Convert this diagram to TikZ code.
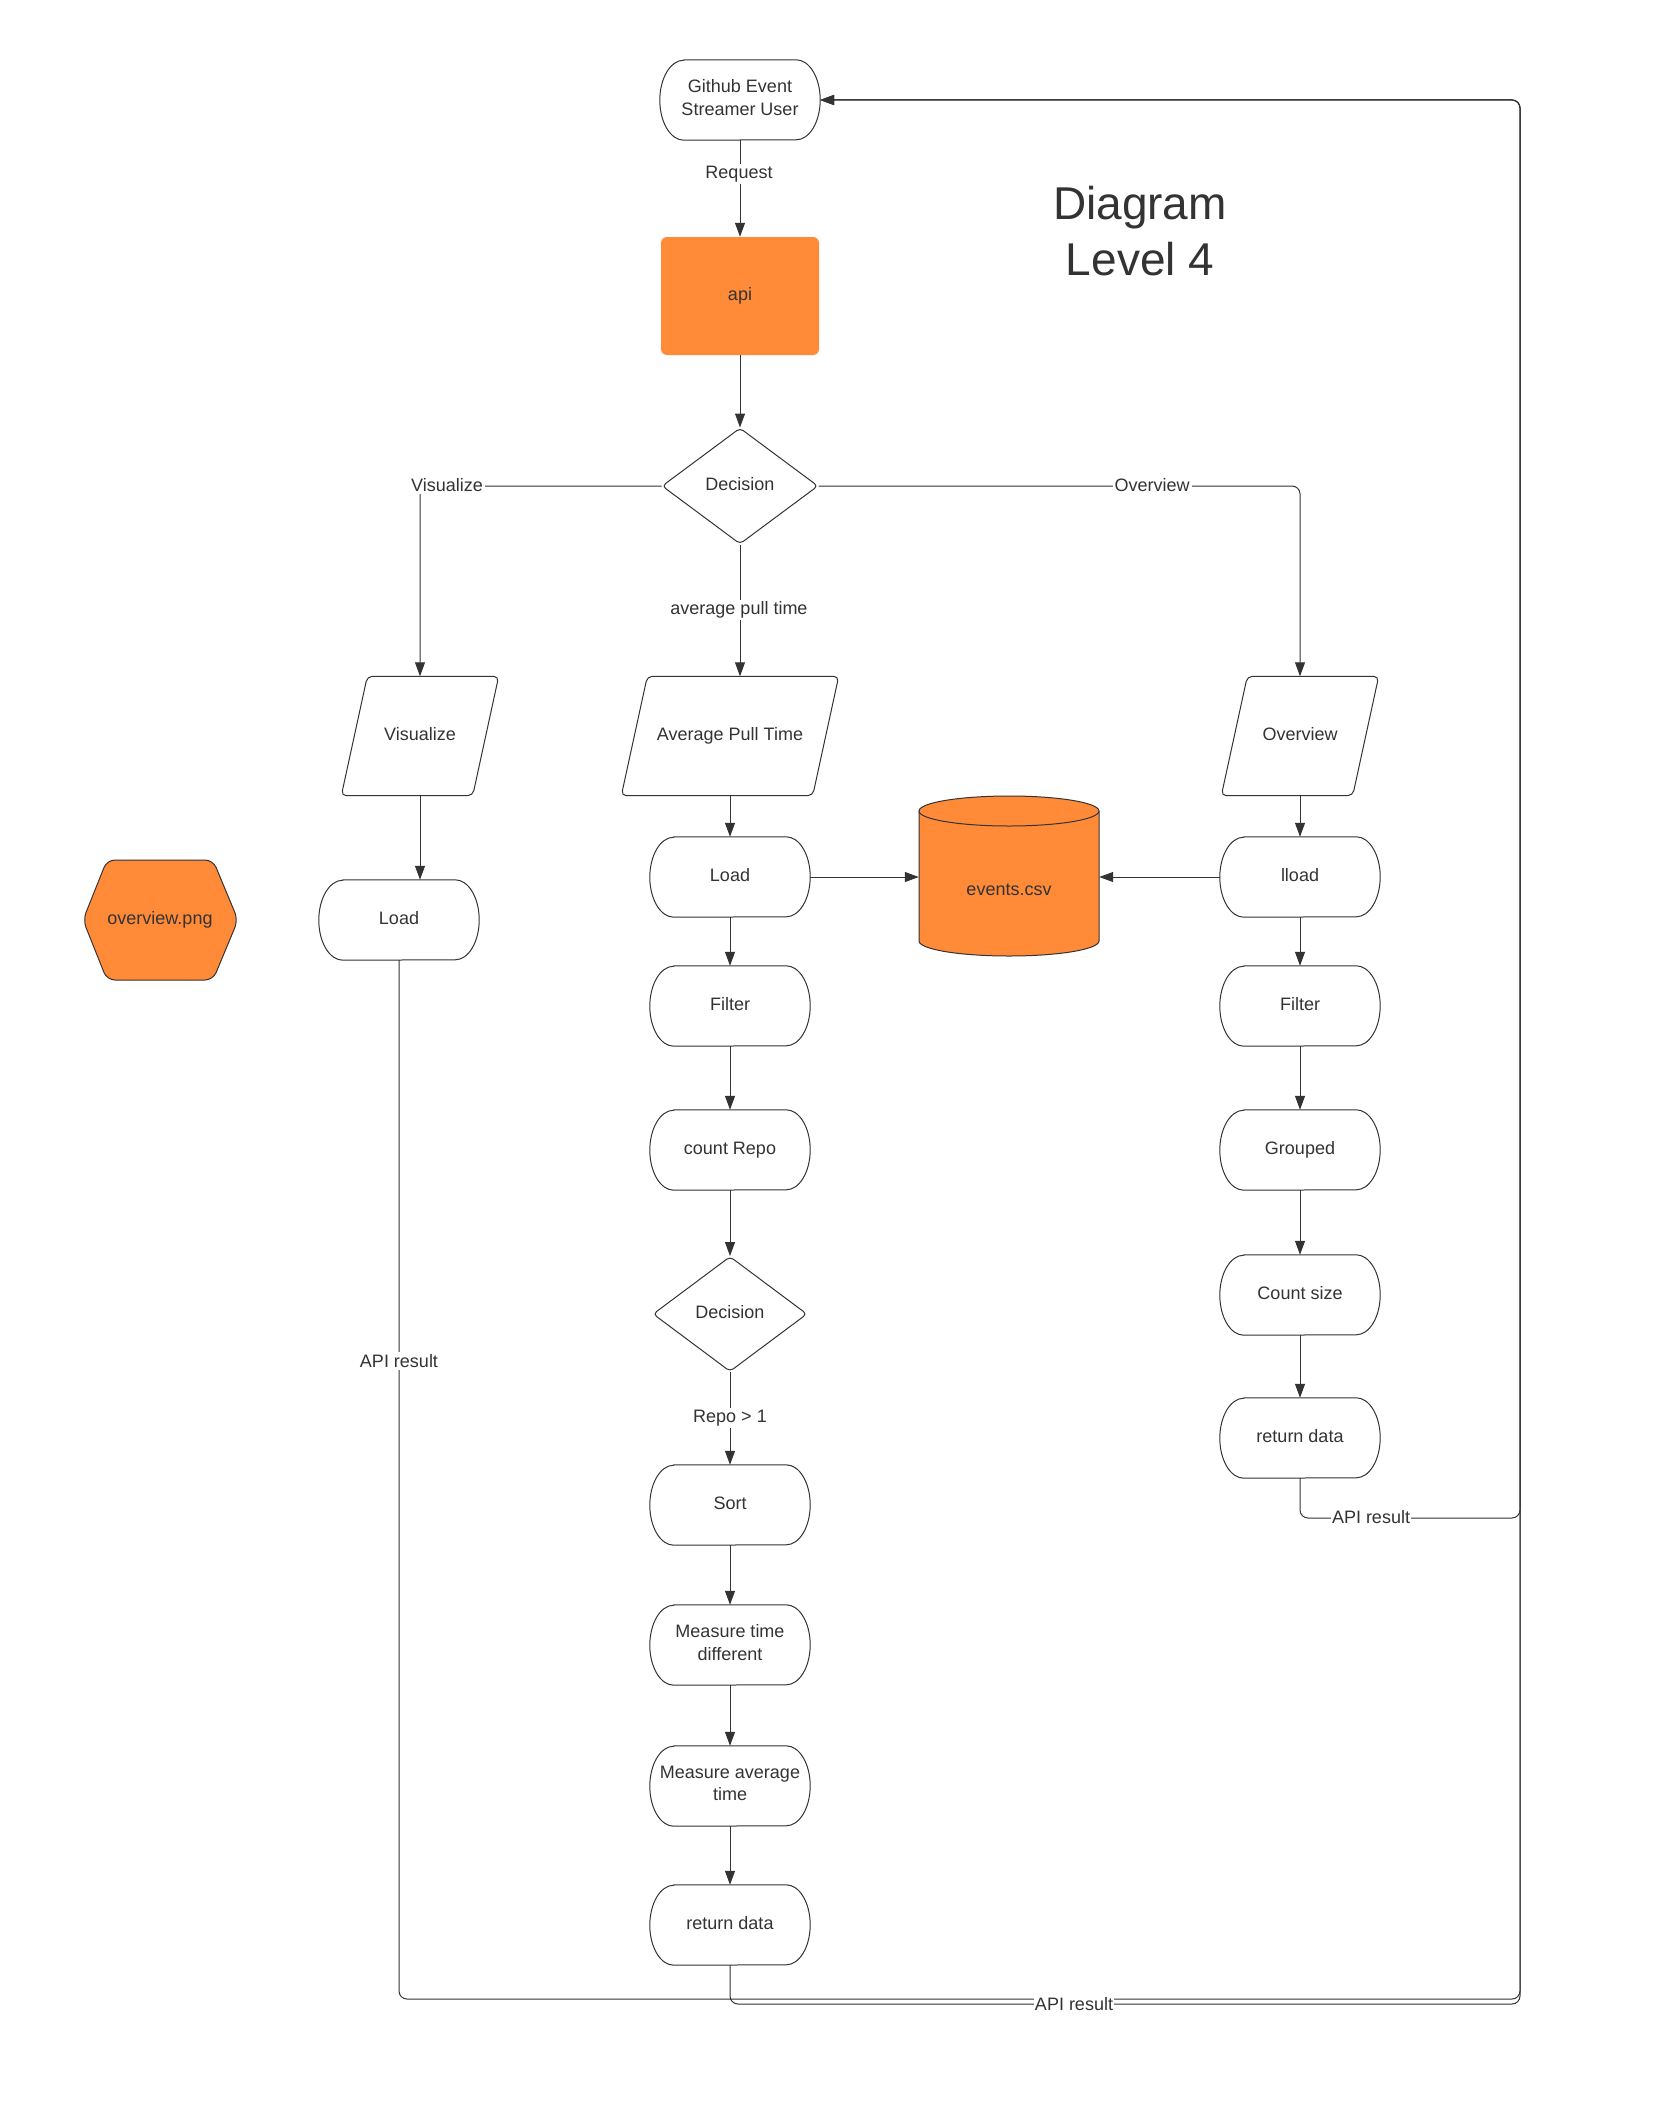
\documentclass[tikz,border=0pt]{standalone}
\usepackage{fontspec}
\setmainfont{Liberation Sans}
\usetikzlibrary{arrows.meta,shapes.geometric,calc}
\definecolor{ink}{HTML}{333333}
\definecolor{brand}{HTML}{FF8A38}

\tikzset{
  x=1pt, y=1pt,
  conn/.style={draw=ink, line width=1pt, rounded corners=8pt,
    -{Triangle[length=14pt,width=10pt]}},
  txt/.style={text=ink, font=\fontsize{18}{22.5}\selectfont, align=center},
  boxtxt/.style={txt, execute at end node={\rule[-5pt]{0pt}{18pt}}},
  lbl/.style={txt, fill=white, inner sep=2pt},
  termbox/.style={boxtxt, minimum width=160pt, minimum height=80pt, inner sep=0pt},
  iobox/.style={boxtxt, minimum width=#1, minimum height=119pt, inner sep=0pt},
  choice/.style={boxtxt, diamond, draw=ink, line width=1pt, rounded corners=4pt,
    inner sep=0pt, aspect=1.34},
  outline/.style={draw=ink, line width=1pt},
}

% terminator outline: straight top and bottom, half-ellipse sides
\newcommand\termline[1]{%
  \draw[outline] ($(#1.north west)+(24pt,0)$) -- ($(#1.north east)+(-24pt,0)$)
    arc[start angle=90,end angle=-90,x radius=24pt,y radius=40pt]
    -- ($(#1.south west)+(24pt,0)$)
    arc[start angle=270,end angle=90,x radius=24pt,y radius=40pt] -- cycle;}
% data (input/output) outline: slanted parallelogram
\newcommand\ioline[1]{%
  \draw[outline, rounded corners=5pt] ($(#1.north west)+(26pt,0)$) -- (#1.north east)
    -- ($(#1.south east)+(-26pt,0)$) -- (#1.south west) -- cycle;}

\begin{document}
\begin{tikzpicture}
\useasboundingbox (0,0) rectangle (1672,-2122);

% title
\node[text=ink, font=\fontsize{46}{56}\selectfont, align=center] (title) at (1140,-231) {Diagram\\Level 4};

% top of the flow
\node[termbox] (gh) at (740,-100) {Github Event\\Streamer User};
\node[boxtxt, fill=brand, rounded corners=6pt, minimum width=158pt, minimum height=118pt] (api) at (740,-296) {api};
\node[choice, minimum width=156pt, minimum height=116pt] (dec1) at (740,-486) {Decision};

% branch entry points
\node[iobox=157pt] (vis) at (420,-736) {Visualize};
\node[iobox=217pt] (avgp) at (730,-736) {Average Pull Time};
\node[iobox=157pt] (ovp) at (1300,-736) {Overview};

% visualize branch
\node[termbox] (vload) at (399,-920) {Load};

% average pull time branch
\node[termbox] (load) at (730,-877) {Load};
\node[termbox] (filt) at (730,-1006) {Filter};
\node[termbox] (cnt) at (730,-1150) {count Repo};
\node[choice, minimum width=154pt, minimum height=115pt] (dec2) at (730,-1314) {Decision};
\node[termbox] (sort) at (730,-1505) {Sort};
\node[termbox] (mtd) at (730,-1645) {Measure time\\different};
\node[termbox] (mat) at (730,-1786) {Measure average\\time};
\node[termbox] (ret) at (730,-1925) {return data};

% overview branch
\node[termbox] (lload) at (1300,-877) {lload};
\node[termbox] (ofilt) at (1300,-1006) {Filter};
\node[termbox] (grp) at (1300,-1150) {Grouped};
\node[termbox] (csize) at (1300,-1295) {Count size};
\node[termbox] (oret) at (1300,-1438) {return data};

\foreach \n in {gh,vload,load,filt,cnt,sort,mtd,mat,ret,lload,ofilt,grp,csize,oret} {\termline{\n}}
\foreach \n in {vis,avgp,ovp} {\ioline{\n}}

% data store
\coordinate (csvc) at (1009,-876);
\draw[outline, fill=brand] ($(csvc)+(-90,65)$) -- ($(csvc)+(-90,-65)$)
  arc[start angle=180,end angle=360,x radius=90pt,y radius=15pt]
  -- ($(csvc)+(90,65)$)
  arc[start angle=0,end angle=180,x radius=90pt,y radius=15pt] -- cycle;
\draw[outline] ($(csvc)+(-90,65)$) arc[start angle=180,end angle=360,x radius=90pt,y radius=15pt];
\node[txt, minimum width=180pt, minimum height=160pt, inner sep=0pt] (csv) at (csvc) {\raisebox{-19pt}[0pt][0pt]{events.csv}};

% image output
\coordinate (hexc) at (160,-920);
\draw[outline, fill=brand, rounded corners=8pt]
  ($(hexc)+(-77,0)$) -- ($(hexc)+(-53,60)$) -- ($(hexc)+(53,60)$)
  -- ($(hexc)+(78,0)$) -- ($(hexc)+(53,-60)$) -- ($(hexc)+(-53,-60)$) -- cycle;
\node[boxtxt] (hex) at (hexc) {overview.png};

% connectors
\draw[conn] (gh.south) -- (api.north);
\node[lbl] (lreq) at (739,-174) {Request};
\draw[conn] (api.south) -- (dec1.north);
\draw[conn] (dec1.west) -| (vis.north);
\draw[conn] (dec1.east) -| (ovp.north);
\draw[conn] (dec1.south) -- (dec1.south |- avgp.north);
\node[lbl] (lvis) at (447,-485) {Visualize};
\node[lbl] (lov) at (1152,-485) {Overview};
\node[lbl] (lavg) at (739,-610) {average pull time};

\draw[conn] (vis.south) -- (vis.south |- vload.north);

\draw[conn] (avgp.south) -- (load.north);
\draw[conn] (load.east) -- (load.east -| csv.west);
\draw[conn] (load.south) -- (filt.north);
\draw[conn] (filt.south) -- (cnt.north);
\draw[conn] (cnt.south) -- (dec2.north);
\draw[conn] (dec2.south) -- (sort.north);
\node[lbl] (lrepo) at (730,-1418) {Repo > 1};
\draw[conn] (sort.south) -- (mtd.north);
\draw[conn] (mtd.south) -- (mat.north);
\draw[conn] (mat.south) -- (ret.north);

\draw[conn] (ovp.south) -- (lload.north);
\draw[conn] (lload.west) -- (lload.west -| csv.east);
\draw[conn] (lload.south) -- (ofilt.north);
\draw[conn] (ofilt.south) -- (grp.north);
\draw[conn] (grp.south) -- (csize.north);
\draw[conn] (csize.south) -- (oret.north);

% results returned to the user
\coordinate (r1) at (1520,-1999);
\coordinate (r2) at (1520,-2004);
\coordinate (r3) at (1520,-1518);
\draw[conn] (vload.south) |- (r1) |- (gh.east);
\draw[conn] (ret.south) |- (r2) |- (gh.east);
\draw[conn] (oret.south) |- (r3) |- (gh.east);
\node[lbl] (lres1) at (399,-1361) {API result};
\node[lbl, inner sep=1pt] (lres2) at (1074,-2004) {API result};
\node[lbl, inner sep=1pt] (lres3) at (1371,-1517) {API result};
\end{tikzpicture}
\end{document}
